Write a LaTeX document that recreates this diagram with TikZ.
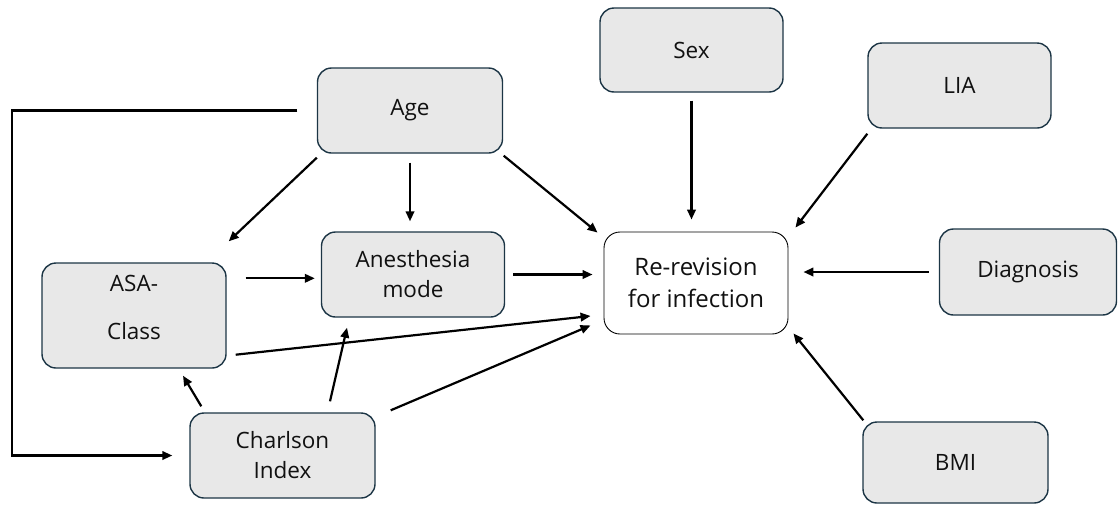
\documentclass[tikz,border=0pt]{standalone}
\usepackage{fontspec}
\setmainfont{Open Sans}
\usetikzlibrary{arrows.meta,calc}
\definecolor{boxfill}{HTML}{E8E8E8}
\definecolor{boxline}{HTML}{1C3545}
\definecolor{txt}{HTML}{111111}
\begin{document}
\begin{tikzpicture}[x=1pt,y=-1pt,
  gbox/.style={draw=boxline,line width=1.4pt,fill=boxfill,rounded corners=14pt,
    align=center,text=txt,font=\fontsize{22.5}{30}\selectfont,inner sep=0pt},
  wbox/.style={draw=black,line width=0.9pt,fill=white,rounded corners=16pt,
    align=center,text=txt,font=\fontsize{24}{32}\selectfont,inner sep=0pt},
  arr/.style={line width=2.2pt,-{Triangle[length=10pt,width=8.5pt]}}]
\useasboundingbox (0,0) rectangle (1118,504);
\node[gbox,minimum width=185pt,minimum height=85pt] (age) at (410,110.5) {Age};
\node[gbox,minimum width=183pt,minimum height=84pt] (sex) at (691.5,50) {Sex};
\node[gbox,minimum width=183pt,minimum height=85pt] (lia) at (959.5,85.5) {LIA};
\node[gbox,minimum width=177pt,minimum height=86pt] (diag) at (1028,272) {Diagnosis};
\node[gbox,minimum width=185pt,minimum height=81pt] (bmi) at (955.5,462.5) {BMI};
\node[wbox,minimum width=184pt,minimum height=102pt] (re) at (696,283) {Re-revision\\for infection};
\node[gbox,minimum width=183pt,minimum height=85pt] (anes) at (413,274.5) {Anesthesia\\mode};
\node[gbox,minimum width=184pt,minimum height=105pt,text depth=16pt] (asa) at (134,315.5) {ASA-\\[18pt]Class};
\node[gbox,minimum width=185pt,minimum height=85pt] (charl) at (282.5,455.5) {Charlson\\Index};
\coordinate (lft) at (12,0);
\coordinate (asaout) at ([shift={(19,16)}]asa.north east);
% connectors
\draw[arr] ([shift={(0,4)}]age.south west) -- ([shift={(2,-21)}]asa.north east);
\draw[arr] ([shift={(0,9)}]age.south) -- ([shift={(0,-10)}]age.south |- anes.north);
\draw[arr] ([shift={(0.5,2)}]age.south east) -- ([shift={(-6,1)}]re.north west);
\draw[arr] ([shift={(0,8)}]sex.south) -- ([shift={(0,-12)}]sex.south |- re.north);
\draw[arr] ([shift={(0,5)}]lia.south west) -- ([shift={(7,-4)}]re.north east);
\draw[arr] ([shift={(-10,0)}]diag.west) -- ([shift={(15,0)}]re.east |- diag.west);
\draw[arr] ([shift={(1,-1)}]bmi.north west) -- ([shift={(5,-1)}]re.south east);
\draw[arr] (asaout) -- ([shift={(-6,0)}]anes.west |- asaout);
\draw[arr] ([shift={(8,0)}]anes.east) -- ([shift={(-11,0)}]re.west |- anes.east);
\draw[arr] ([shift={(9,-14)}]asa.south east) -- ([shift={(-13,33)}]re.west);
\draw[arr] ([shift={(15,-2)}]charl.north east) -- ([shift={(-13,-9)}]re.south west);
\draw[arr] ([shift={(12,-6)}]charl.north west) -- ([shift={(49,7)}]asa.south);
\draw[arr] ([shift={(47.5,-11)}]charl.north) -- ([shift={(-66,10)}]anes.south);
\draw[arr] ([xshift=-19.5pt]age.west) -- (lft |- age.west) -- (lft |- charl.west) -- ([xshift=-17pt]charl.west);
\end{tikzpicture}
\end{document}
